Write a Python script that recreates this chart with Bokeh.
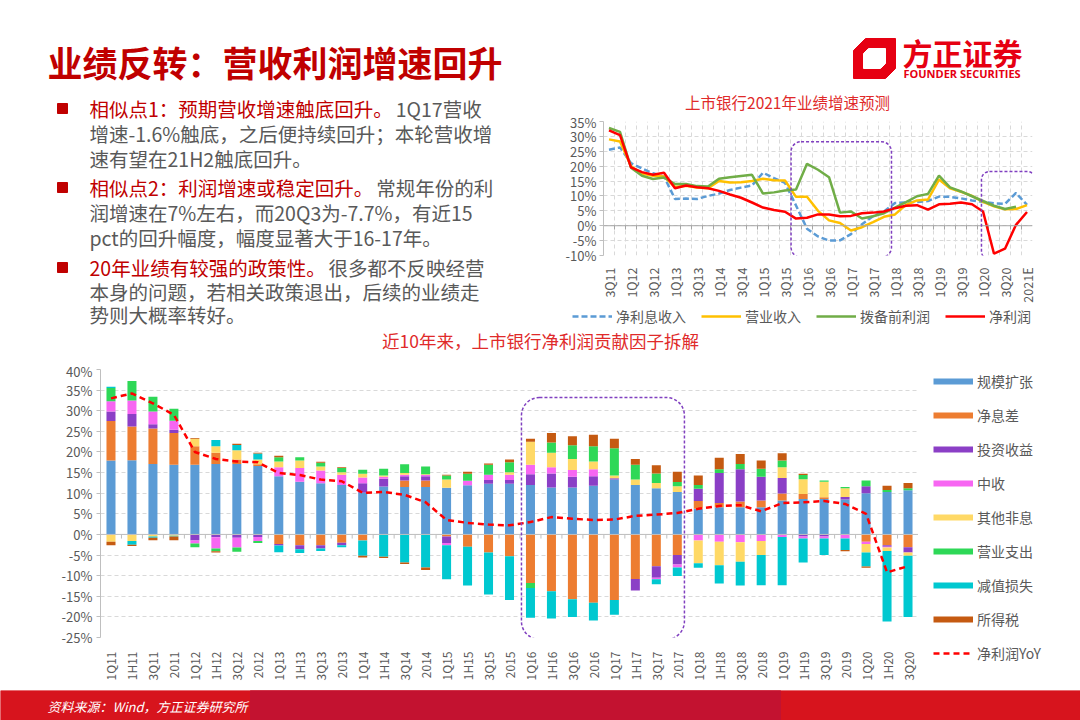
import numpy as np
from bokeh.plotting import figure
from bokeh.models import (Range1d, FixedTicker, PrintfTickFormatter, Legend, LegendItem,
                          BoxAnnotation, Span)
from bokeh.layouts import column, row
from bokeh.embed import file_html
from bokeh.resources import INLINE
from bokeh.core.properties import value

FONT = "Noto Sans CJK SC"
DARK_RED = "#C00000"
TITLE_RED = "#E02A2A"
GRAY = "#595959"
GRID = "#D9D9D9"
AXIS = "#BFBFBF"
BOX = "#8040C0"

# ---------------- top chart data (growth, %) ----------------
top_periods = ["3Q11", "4Q11", "1Q12", "2Q12", "3Q12", "4Q12", "1Q13", "2Q13", "3Q13", "4Q13",
               "1Q14", "2Q14", "3Q14", "4Q14", "1Q15", "2Q15", "3Q15", "4Q15", "1Q16", "2Q16",
               "3Q16", "4Q16", "1Q17", "2Q17", "3Q17", "4Q17", "1Q18", "2Q18", "3Q18", "4Q18",
               "1Q19", "2Q19", "3Q19", "4Q19", "1Q20", "2Q20", "3Q20", "4Q20", "2021E"]
nii_growth = [25.5, 26.3, 21.0, 19.2, 17.6, 16.5, 9.0, 9.1, 9.0, 10.0,
              10.8, 12.0, 12.8, 13.5, 17.8, 16.0, 14.4, 6.8, -1.0, -3.6,
              -5.0, -4.9, -2.8, 0.5, 3.2, 4.8, 7.6, 7.8, 8.0, 8.3,
              9.8, 9.7, 9.2, 8.5, 8.0, 7.5, 7.3, 11.0, 7.0]
revenue_growth = [29.0, 28.3, 20.0, 17.5, 16.8, 16.5, 13.0, 13.4, 12.8, 12.6,
                  15.0, 14.5, 14.6, 15.0, 15.8, 15.3, 15.2, 9.7, 9.7, 5.0,
                  1.8, 0.9, -1.6, -0.5, 1.2, 3.0, 3.8, 7.0, 8.5, 8.8,
                  15.5, 12.6, 11.4, 10.0, 8.0, 6.5, 5.5, 5.6, 6.9]
ppop_growth = [32.8, 31.5, 19.5, 16.8, 15.7, 16.2, 14.0, 14.0, 13.3, 13.2,
               15.8, 16.3, 16.7, 17.1, 10.8, 11.2, 11.8, 12.2, 20.8, 18.8,
               16.3, 4.4, 4.8, 2.4, 3.2, 4.2, 6.1, 7.9, 9.9, 10.7,
               16.8, 12.9, 11.5, 9.9, 8.3, 6.7, 5.6, 6.4]
profit_growth = [32.0, 30.4, 19.6, 18.0, 17.1, 17.8, 12.6, 13.5, 12.9, 12.6,
                 11.7, 10.5, 9.4, 7.8, 6.1, 5.3, 4.7, 2.4, 2.7, 3.8,
                 3.8, 3.2, 3.3, 4.2, 4.4, 4.8, 5.9, 6.7, 6.9, 5.4,
                 7.2, 7.4, 7.8, 7.2, 4.8, -9.4, -7.7, 0.3, 4.6]
top_series_names = ["净利息收入", "营业收入", "拨备前利润", "净利润"]

# ---------------- bottom chart data (contribution, pct) ----------------
periods = ["1Q11", "1H11", "3Q11", "2011", "1Q12", "1H12", "3Q12", "2012",
           "1Q13", "1H13", "3Q13", "2013", "1Q14", "1H14", "3Q14", "2014",
           "1Q15", "1H15", "3Q15", "2015", "1Q16", "1H16", "3Q16", "2016",
           "1Q17", "1H17", "3Q17", "2017", "1Q18", "1H18", "3Q18", "2018",
           "1Q19", "1H19", "3Q19", "2019", "1Q20", "1H20", "3Q20"]
scale_c = [17.9, 18.0, 17.1, 16.9, 16.9, 17.1, 17.1, 16.6, 14.1, 12.8, 12.4, 12.0, 10.1,
           11.6, 11.5, 11.5, 11.3, 11.9, 12.3, 12.3, 12.0, 11.4, 11.4, 11.8, 13.3, 12.0,
           11.2, 10.3, 6.2, 6.6, 6.6, 6.6, 8.2, 8.6, 8.6, 8.5, 10.0, 10.3, 10.7]
nim_c = [9.6, 8.2, 8.6, 7.7, 4.5, 2.7, 1.1, 0.4, -2.3, -2.6, -2.6, -2.0, -1.5,
         0.0, 1.6, 1.6, -0.5, -3.0, -4.4, -5.3, -11.8, -13.8, -15.7, -16.6, -15.9, -10.8,
         -7.7, -5.0, 1.9, 1.0, 1.4, 1.6, 1.7, 1.2, 0.4, 0.0, -1.8, -2.6, -3.1]
inv_c = [2.3, 3.0, 1.0, 0.8, -1.5, -0.7, -0.8, -0.6, -0.4, -1.0, -0.8, -0.6, 2.3,
         1.9, 1.0, 1.0, -1.6, 0.0, 0.9, 0.9, 2.6, 3.4, 2.6, 2.3, 0.3, -2.8,
         -2.8, -2.3, 3.0, 7.3, 7.8, 5.8, 3.8, -0.5, -0.5, 0.6, 1.7, -0.4, -1.3]
fee_c = [2.5, 3.3, 3.1, 2.2, -0.7, -2.7, -2.4, -1.0, 2.2, 3.3, 3.1, 2.5, 1.4,
         0.5, 0.4, 0.3, -0.5, 1.1, 1.3, 1.3, 2.3, 1.5, 1.6, 1.7, 0.0, 0.0,
         -0.4, -0.7, -1.5, -1.8, -1.9, -1.6, -0.6, -0.5, -0.5, -1.0, -0.5, -0.2, 0.0]
other_c = [-1.8, -1.6, -0.5, -0.3, 1.8, 1.6, 2.2, 1.2, 1.4, 1.8, 1.0, 0.6, 0.9,
           0.3, 0.4, 0.2, 2.0, 0.0, 0.0, 0.6, 5.6, 3.5, 2.7, 1.9, 0.7, 1.3,
           1.3, 1.4, -5.5, -5.7, -4.7, -3.4, 2.6, 3.6, 3.8, 2.1, -2.1, -0.8, -0.8]
opex_c = [3.2, 4.7, 3.6, 2.9, -0.9, -0.7, -1.0, -0.5, 1.0, 0.8, 0.9, 1.0, 1.0,
          1.6, 2.1, 1.9, 1.0, 1.7, 2.4, 2.4, -1.2, 2.5, 3.3, 3.7, 6.6, 3.6,
          2.3, 1.0, 0.9, 0.9, 1.3, 1.9, 1.6, 1.0, 0.3, 0.3, 1.4, 0.5, 0.5]
impair_c = [0.3, -0.9, -0.3, -0.2, 0.0, 1.5, 1.3, 1.4, -1.6, -0.9, -0.6, -0.5, -3.7,
            -5.4, -6.8, -8.0, -8.3, -9.4, -10.2, -10.6, -7.2, -6.6, -4.3, -4.3, -3.6, 0.0,
            -1.2, -2.1, -1.1, -4.4, -5.8, -7.3, -11.7, -5.8, -4.0, -2.8, -3.4, -17.1, -14.8]
tax_c = [-0.8, -0.3, -0.6, -0.9, 0.2, -0.3, 0.3, 0.2, 0.4, 0.0, 0.2, 0.2, -0.4,
         -0.3, -0.4, -0.6, 0.2, 0.5, 0.3, 0.7, 0.7, 2.3, 2.2, 2.8, 2.3, 1.4,
         2.0, 2.5, 2.3, 2.8, 2.4, 2.0, 1.8, 0.3, 0.0, -0.3, -0.3, 1.0, 1.3]
profit_yoy = [33.0, 34.2, 31.8, 29.0, 20.0, 18.3, 17.7, 17.5, 14.9, 14.4, 13.3, 12.9, 10.1,
              10.3, 9.6, 7.8, 3.5, 2.8, 2.4, 2.2, 3.0, 4.2, 3.8, 3.5, 3.6, 4.5,
              4.8, 5.2, 6.2, 6.9, 7.1, 5.6, 7.6, 7.8, 8.1, 7.4, 5.0, -9.2, -7.7]
factor_names = ["规模扩张", "净息差", "投资收益", "中收", "其他非息", "营业支出", "减值损失", "所得税"]
factor_colors = ["#5B9BD5", "#ED7D31", "#8B3FC6", "#F766F2", "#FFD966", "#2ED857", "#00C8D0", "#C55A11"]

W = 1080
NAN2 = [float("nan"), float("nan")]


def canvas(w, h):
    p = figure(width=w, height=h, x_range=Range1d(0, w), y_range=Range1d(h, 0),
               output_backend="svg", toolbar_location=None, min_border=0,
               x_axis_type=None, y_axis_type=None, frame_align=False)
    p.grid.visible = False
    p.outline_line_color = None
    p.background_fill_color = "white"
    p.border_fill_color = "white"
    return p


def est_width(s, fs):
    w = 0.0
    for c in s:
        w += fs if ord(c) > 0x2E80 else 0.55 * fs
    return w


def legend_box(items, orientation, location, spacing):
    return Legend(items=items, orientation=orientation, location=location, glyph_width=40,
                  glyph_height=20, label_height=20, label_standoff=4, spacing=spacing,
                  padding=0, margin=0, border_line_alpha=0, background_fill_alpha=0,
                  label_text_font=FONT, label_text_font_size="14px", label_text_color=GRAY)


# ---------------- header (page y 0-90) ----------------
hdr = canvas(W, 90)
hdr.text(x=[47], y=[61], text=["业绩反转：营收利润增速回升"], text_font=value(FONT),
         text_font_size="35px", text_font_style="bold", text_color=DARK_RED,
         text_baseline="middle", text_align="left")
hdr.patch(x=[853, 865, 895, 895, 885, 853], y=[50, 38, 38, 68, 78, 78], color="#E60012")
hdr.patch(x=[863, 868, 885, 885, 880, 863], y=[53, 48, 48, 63, 68, 68], color="white")
hdr.text(x=[902], y=[51], text=["方正证券"], text_font=value(FONT), text_font_size="30px",
         text_font_style="bold", text_color="#E60012", text_baseline="middle")
hdr.text(x=[903], y=[73], text=["FOUNDER SECURITIES"], text_font=value("Open Sans"),
         text_font_size="11px", text_font_style="bold", text_color="#E60012",
         text_baseline="middle")

# ---------------- left text (page x 0-553, y 90-328) ----------------
txt = canvas(553, 238)
FS = 19.5
lines = [
    (18, "相似点1：预期营收增速触底回升。", "1Q17营收"),
    (43, "", "增速-1.6%触底，之后便持续回升；本轮营收增"),
    (68, "", "速有望在21H2触底回升。"),
    (97, "相似点2：利润增速或稳定回升。", "常规年份的利"),
    (122, "", "润增速在7%左右，而20Q3为-7.7%，有近15"),
    (147, "", "pct的回升幅度，幅度显著大于16-17年。"),
    (177, "20年业绩有较强的政策性。", "很多都不反映经营"),
    (201, "", "本身的问题，若相关政策退出，后续的业绩走"),
    (224, "", "势则大概率转好。"),
]
x0 = 89
for yy, red_part, gray_part in lines:
    gx = x0
    if red_part:
        txt.text(x=[x0], y=[yy], text=[red_part], text_font=value(FONT),
                 text_font_size=f"{FS}px", text_color=DARK_RED, text_baseline="middle")
        gx = x0 + est_width(red_part, FS) + 3
        txt.rect(x=[62], y=[yy], width=10, height=10, color=DARK_RED)
    txt.text(x=[gx], y=[yy], text=[gray_part], text_font=value(FONT),
             text_font_size=f"{FS}px", text_color=GRAY, text_baseline="middle")

# ---------------- top chart (page x 553-1080, y 90-328) ----------------
TW = 527
top_title = canvas(TW, 22)
top_title.text(x=[234], y=[11], text=["上市银行2021年业绩增速预测"], text_font=value(FONT),
               text_font_size="15.5px", text_color=TITLE_RED, text_baseline="middle",
               text_align="center")

n_top = len(top_periods)
xt = list(range(n_top))
top = figure(width=TW, height=193, x_range=Range1d(-0.5, n_top - 0.5), y_range=Range1d(-10, 35),
             output_backend="svg", toolbar_location=None, frame_align=False,
             min_border_left=50, min_border_right=48, min_border_top=9, min_border_bottom=45)
top.outline_line_color = None
top.xaxis.ticker = FixedTicker(ticks=list(range(0, n_top, 2)))
top.xaxis.major_label_overrides = {i: top_periods[i] for i in range(0, n_top, 2)}
top.xaxis.major_label_orientation = np.pi / 2
top.xaxis.axis_line_color = None
top.xaxis.major_tick_line_color = None
top.xaxis.minor_tick_line_color = None
top.xaxis.major_label_standoff = 6
top.yaxis.ticker = FixedTicker(ticks=list(range(-10, 36, 5)))
top.yaxis.formatter = PrintfTickFormatter(format="%d%%")
top.yaxis.axis_line_color = AXIS
top.yaxis.major_tick_line_color = AXIS
top.yaxis.major_tick_out = 4
top.yaxis.major_tick_in = 0
top.yaxis.minor_tick_line_color = None
top.yaxis.major_label_standoff = 3
for ax in (top.xaxis, top.yaxis):
    ax.major_label_text_font = FONT
    ax.major_label_text_color = GRAY
top.xaxis.major_label_text_font_size = "12.5px"
top.yaxis.major_label_text_font_size = "13px"
top.xgrid.ticker = FixedTicker(ticks=[i + 0.5 for i in range(n_top - 1)])
top.xgrid.grid_line_color = GRID
top.xgrid.grid_line_dash = "4 3"
top.ygrid.grid_line_color = GRID
top.ygrid.grid_line_dash = "4 3"
top.add_layout(Span(location=0, dimension="width", line_color="#A6A6A6", line_width=1))
bnds = [i + 0.5 for i in range(n_top - 1)]
top.segment(x0=bnds, y0=[0] * len(bnds), x1=bnds, y1=[-1.3] * len(bnds), line_color="#A6A6A6")

top_styles = [dict(line_color="#5B9BD5", line_width=2.5, line_dash="6 3"),
              dict(line_color="#FFC000", line_width=2.5),
              dict(line_color="#70AD47", line_width=2.5),
              dict(line_color="#FF0000", line_width=2.5)]
top.line(xt, nii_growth, **top_styles[0])
top.line(xt, revenue_growth, **top_styles[1])
top.line(xt[:len(ppop_growth)], ppop_growth, **top_styles[2])
top.line(xt, profit_growth, **top_styles[3])
top.add_layout(BoxAnnotation(left=16.55, right=25.68, bottom=-10.6, top=28.2, fill_alpha=0,
                             line_color=BOX, line_alpha=1, line_dash="3 2", line_width=1.5,
                             border_radius=10))
top.add_layout(BoxAnnotation(left=33.86, right=38.77, bottom=-11.3, top=18.2, fill_alpha=0,
                             line_color=BOX, line_alpha=1, line_dash="3 2", line_width=1.5,
                             border_radius=8))

top_leg_fig = canvas(TW, 23)
t_items = []
for name, st in zip(top_series_names, top_styles):
    d = top_leg_fig.line(x=NAN2, y=NAN2, **st)
    t_items.append(LegendItem(label=name, renderers=[d]))
top_leg_fig.add_layout(legend_box(t_items, "horizontal", (19, 2), 15))

right_col = column(top_title, top, top_leg_fig)

# ---------------- bottom chart (page y 328-690) ----------------
bot_title = canvas(W, 33)
bot_title.text(x=[540], y=[12], text=["近10年来，上市银行净利润贡献因子拆解"], text_font=value(FONT),
               text_font_size="17.5px", text_color=TITLE_RED, text_baseline="middle",
               text_align="center")

n = len(periods)
xs = np.arange(n)
bot = figure(width=918, height=329, x_range=Range1d(-0.5, n - 0.5), y_range=Range1d(-25, 40),
             output_backend="svg", toolbar_location=None, frame_align=False,
             min_border_left=100, min_border_right=0, min_border_top=8, min_border_bottom=53)
bot.outline_line_color = None
bot.xaxis.ticker = FixedTicker(ticks=list(range(n)))
bot.xaxis.major_label_overrides = {i: periods[i] for i in range(n)}
bot.xaxis.major_label_orientation = np.pi / 2
bot.xaxis.axis_line_color = None
bot.xaxis.major_tick_line_color = None
bot.xaxis.minor_tick_line_color = None
bot.xaxis.major_label_standoff = 8
bot.yaxis.ticker = FixedTicker(ticks=list(range(-25, 41, 5)))
bot.yaxis.formatter = PrintfTickFormatter(format="%d%%")
bot.yaxis.axis_line_color = AXIS
bot.yaxis.major_tick_line_color = AXIS
bot.yaxis.major_tick_out = 4
bot.yaxis.major_tick_in = 0
bot.yaxis.minor_tick_line_color = None
bot.yaxis.major_label_standoff = 4
for ax in (bot.xaxis, bot.yaxis):
    ax.major_label_text_font = FONT
    ax.major_label_text_color = GRAY
bot.xaxis.major_label_text_font_size = "12px"
bot.yaxis.major_label_text_font_size = "13px"
bot.xgrid.visible = False
bot.ygrid.grid_line_color = GRID
bot.ygrid.grid_line_dash = "4 3"

series = [scale_c, nim_c, inv_c, fee_c, other_c, opex_c, impair_c, tax_c]
pos = np.zeros(n)
neg = np.zeros(n)
for vals, color in zip(series, factor_colors):
    v = np.array(vals, dtype=float)
    base = np.where(v >= 0, pos, neg)
    topv = base + v
    pos = np.where(v >= 0, topv, pos)
    neg = np.where(v < 0, topv, neg)
    bot.vbar(x=xs, width=0.43, bottom=base, top=topv, fill_color=color, line_color=None)

bot.add_layout(Span(location=0, dimension="width", line_color=AXIS, line_width=1))
bb = [i + 0.5 for i in range(n - 1)]
bot.segment(x0=bb, y0=[0] * len(bb), x1=bb, y1=[-1.0] * len(bb), line_color=AXIS)
yoy_style = dict(line_color="#FF0000", line_width=2.5, line_dash="6 4")
bot.line(xs, profit_yoy, **yoy_style)
bot.add_layout(BoxAnnotation(left=19.57, right=27.34, bottom=-25.45, top=33.2, fill_alpha=0,
                             line_color=BOX, line_alpha=1, line_dash="3 2", line_width=1.5,
                             border_radius=18))

bot_leg_fig = canvas(W - 918, 329)
b_items = []
for name, color in zip(factor_names, factor_colors):
    d = bot_leg_fig.line(x=NAN2, y=NAN2, line_color=color, line_width=6)
    b_items.append(LegendItem(label=name, renderers=[d]))
d = bot_leg_fig.line(x=NAN2, y=NAN2, **yoy_style)
b_items.append(LegendItem(label="净利润YoY", renderers=[d]))
bot_leg_fig.add_layout(legend_box(b_items, "vertical", (15, 27), 14))

# ---------------- footer (page y 690-720) ----------------
foot = canvas(W, 30)
foot.quad(left=[0], right=[W], top=[0], bottom=[30], color="#D7141D")
foot.quad(left=[250], right=[780], top=[0], bottom=[30], color="#C31230")
foot.text(x=[47], y=[16], text=["资料来源：Wind，方正证券研究所"], text_font=value(FONT),
          text_font_size="13px", text_font_style="italic", text_color="white",
          text_baseline="middle")

layout = column(hdr, row(txt, right_col), bot_title, row(bot, bot_leg_fig), foot)
open("out.html", "w").write(file_html(layout, INLINE))
